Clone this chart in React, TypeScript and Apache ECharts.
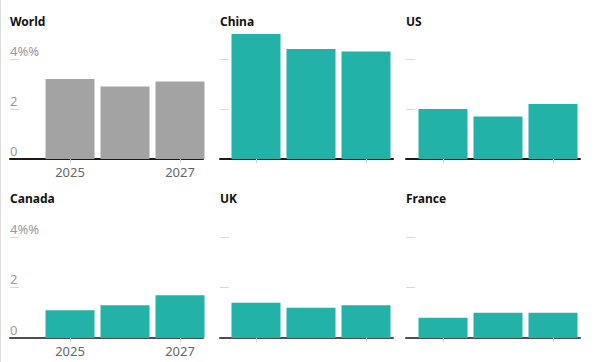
import React, { useEffect, useRef } from "react";
import * as echarts from "echarts";

const years = [2025, 2026, 2027];
const regions = ["World", "China", "US", "Canada", "UK", "France"];
const world = [3.2, 2.9, 3.1];
const china = [5.0, 4.4, 4.3];
const us = [2.0, 1.7, 2.2];
const canada = [1.1, 1.3, 1.7];
const uk = [1.4, 1.2, 1.3];
const france = [0.8, 1.0, 1.0];
const seriesValues = [world, china, us, canada, uk, france];
const yTickLabels = ["0", "2", "4%%"];
const yTicks = [0, 2, 4];
const xTickYears = [2025, 2027];

const FONT = "'Noto Sans', sans-serif";
const PX_PER_YEAR = 55;
const cols = [
  { left: 10, width: 193, first: 60 },
  { left: 220, width: 173, first: 36 },
  { left: 406, width: 174, first: 37 },
];
const rows = [
  { top: 34, height: 125, axisColor: "#1a1a1a", titleTop: 15 },
  { top: 212, height: 126, axisColor: "#4d4d4d", titleTop: 192 },
];

export default function App() {
  const ref = useRef<HTMLDivElement>(null);
  useEffect(() => {
    document.body.style.margin = "0";
    const chart = echarts.init(ref.current!, null, { renderer: "svg" });
    const grids: any[] = [];
    const xAxes: any[] = [];
    const yAxes: any[] = [];
    const series: any[] = [];
    const titles: any[] = [];
    regions.forEach((name, i) => {
      const c = cols[i % 3];
      const r = rows[Math.floor(i / 3)];
      const isFirstCol = i % 3 === 0;
      grids.push({ left: c.left, top: r.top, width: c.width, height: r.height });
      const min = years[0] - c.first / PX_PER_YEAR;
      const max = min + c.width / PX_PER_YEAR;
      xAxes.push({
        type: "value",
        gridIndex: i,
        min,
        max,
        splitLine: { show: false },
        axisLine: { show: true, onZero: false, lineStyle: { color: r.axisColor, width: 2 } },
        axisTick: { show: true, customValues: xTickYears, length: 4, lineStyle: { color: "#cccccc" } },
        axisLabel: {
          show: isFirstCol,
          customValues: xTickYears,
          color: "#666666",
          fontSize: 13,
          fontFamily: FONT,
          margin: 6,
          formatter: (v: number) => String(Math.round(v)),
        },
      });
      yAxes.push({
        type: "value",
        gridIndex: i,
        min: 0,
        max: 5,
        splitLine: { show: false },
        axisLine: { show: false },
        axisTick: {
          show: true,
          inside: true,
          customValues: [2, 4],
          length: 9,
          lineStyle: { color: "#d9d9d9" },
        },
        axisLabel: {
          show: isFirstCol,
          inside: true,
          customValues: yTicks,
          margin: 0,
          color: "#999999",
          fontSize: 13,
          fontFamily: FONT,
          verticalAlign: "bottom",
          padding: [0, 0, 2, 0],
          formatter: (v: number) => yTickLabels[yTicks.indexOf(v)] ?? "",
        },
      });
      series.push({
        type: "bar",
        xAxisIndex: i,
        yAxisIndex: i,
        barWidth: 49,
        itemStyle: { color: i === 0 ? "#a3a3a3" : "#22b2a7" },
        data: years.map((y, k) => [y, seriesValues[i][k]]),
      });
      titles.push({
        text: name,
        left: c.left,
        top: r.titleTop,
        padding: 0,
        textStyle: { fontSize: 12, fontWeight: "bold", color: "#111111", fontFamily: FONT },
      });
    });
    chart.setOption({
      animation: false,
      backgroundColor: "#ffffff",
      title: titles,
      grid: grids,
      xAxis: xAxes,
      yAxis: yAxes,
      series,
      graphic: [
        { type: "line", shape: { x1: 0.5, y1: 0, x2: 0.5, y2: 362 }, style: { stroke: "#dddddd", lineWidth: 1 } },
      ],
    });
    return () => chart.dispose();
  }, []);
  return <div ref={ref} style={{ width: 612, height: 362 }} />;
}
